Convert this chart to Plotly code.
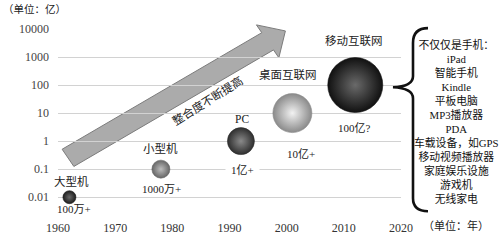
import plotly.graph_objects as go
import math

# ---- data ----
years = [1962, 1978, 1992, 2001, 2012]
values = [0.01, 0.1, 1, 10, 100]
names = ["大型机", "小型机", "PC", "桌面互联网", "移动互联网"]
counts = ["100万+", "1000万+", "1亿+", "10亿+", "100亿?"]
ytick_vals = [0.01, 0.1, 1, 10, 100, 1000, 10000]
ytick_text = ["0.01", "0.1", "1", "10", "100", "1000", "10000"]
xtick_vals = [1960, 1970, 1980, 1990, 2000, 2010, 2020]
device_list = ["不仅仅是手机：", "iPad", "智能手机", "Kindle", "平板电脑", "MP3播放器", "PDA",
               "车载设备，如GPS", "移动视频播放器", "家庭娱乐设施", "游戏机", "无线家电"]

# ---- styles ----
bubble_px = [13, 18, 27, 39, 55]
edge_cols = ["#1e1e1e", "#666666", "#2e2e2e", "#8a8a8a", "#111111"]
center_cols = ["#6a6a6a", "#bdbdbd", "#8a8a8a", "#f2f2f2", "#6a6a6a"]
name_shift = [(2, 16), (0, 21), (1, 22), (-4, 39), (-1, 45)]
count_shift = [(4.5, -12), (1, -20), (1.5, -29), (8.5, -41), (-1, -43)]

W, H = 501, 247
PL, PR, PT, PB = 58, 401, 29, 229
CJK = "Liberation Serif, Noto Sans CJK SC"


def px(x):
    return (x - PL) / (PR - PL)


def py(y):
    return (PB - y) / (PB - PT)


fig = go.Figure()
for i in range(len(years)):
    fig.add_trace(go.Scatter(
        x=[years[i]], y=[values[i]], mode="markers",
        marker=dict(size=bubble_px[i], color=edge_cols[i],
                    gradient=dict(type="radial", color=center_cols[i]),
                    line=dict(width=0.6, color=edge_cols[i]), opacity=1),
        showlegend=False, hoverinfo="skip"))

ann = []
for i in range(len(years)):
    ann.append(dict(x=years[i], y=math.log10(values[i]), xref="x", yref="y",
                    text=names[i], showarrow=False, xshift=name_shift[i][0],
                    yshift=name_shift[i][1],
                    font=dict(family=CJK, size=11.5, color="#222")))
    a = dict(x=years[i], y=math.log10(values[i]), xref="x", yref="y",
             text=counts[i], showarrow=False, xshift=count_shift[i][0],
             yshift=count_shift[i][1],
             font=dict(family=CJK, size=11, color="#222"))
    if i == 2:
        a.update(bgcolor="white", borderpad=5)
    ann.append(a)

# arrow geometry (pixels)
tail = (68, 168.3)
tip = (285.4, 31.1)
dx, dy = tip[0] - tail[0], tip[1] - tail[1]
L = math.hypot(dx, dy)
ux, uy = dx / L, dy / L
nx, ny = -uy, ux
bw, hw, hl = 11, 21, 21


def pt(a, n):
    return (tail[0] + a * ux + n * nx, tail[1] + a * uy + n * ny)


pts = [pt(0, -bw), pt(L - hl, -bw), pt(L - hl, -hw), pt(L, 0),
       pt(L - hl, hw), pt(L - hl, bw), pt(0, bw)]
arrow_path = "M " + " L ".join(f"{px(p[0]):.5f},{py(p[1]):.5f}" for p in pts) + " Z"

mid = pt(117, 0)
ann.append(dict(x=px(mid[0]), y=py(mid[1]), xref="paper", yref="paper",
                text="整合度不断提高", showarrow=False,
                textangle=-math.degrees(math.atan2(-dy, dx)),
                font=dict(family=CJK, size=11.5, color="#222")))


def P(x, y):
    return f"{px(x):.5f},{py(y):.5f}"


brace = (f"M {P(428,28)} Q {P(413,28)} {P(413,44)} L {P(413,80)} "
         f"Q {P(413,91)} {P(393,92)} Q {P(413,93)} {P(413,104)} "
         f"L {P(413,212)} Q {P(413,226)} {P(428,226)}")

shapes = [
    dict(type="path", path=arrow_path, xref="paper", yref="paper",
         fillcolor="#ababab", line=dict(color="#7c7c7c", width=1), layer="between"),
    dict(type="path", path=brace, xref="paper", yref="paper",
         line=dict(color="#111", width=2.6), layer="above"),
]

ann.append(dict(x=px(456.5), y=py(129), xref="paper", yref="paper",
                text="<br>".join(device_list), showarrow=False,
                xanchor="center", yanchor="middle", align="center",
                font=dict(family=CJK, size=10.8, color="#111")))
ann.append(dict(x=px(1), y=py(7), xref="paper", yref="paper",
                text="（单位：亿）", showarrow=False, xanchor="left", yanchor="middle",
                font=dict(family=CJK, size=10.5, color="#222")))
ann.append(dict(x=px(456), y=py(241), xref="paper", yref="paper",
                text="（单位：年）", showarrow=False, xanchor="center", yanchor="middle",
                font=dict(family=CJK, size=11, color="#222")))

fig.update_layout(
    width=W, height=H,
    margin=dict(l=PL, r=W - PR, t=PT, b=H - PB, pad=0),
    paper_bgcolor="white", plot_bgcolor="white",
    shapes=shapes, annotations=ann,
    xaxis=dict(range=[1960, 2020], tickvals=xtick_vals, showgrid=False,
               zeroline=False, showline=False, ticks="", ticklabelstandoff=5,
               tickfont=dict(family="Liberation Serif", size=12, color="#333")),
    yaxis=dict(type="log", range=[-2.6, 4.0], tickvals=ytick_vals, ticktext=ytick_text,
               showgrid=True, gridcolor="#d2d2d2", gridwidth=1.3, zeroline=False,
               showline=False, ticks="", ticklabelstandoff=8,
               tickfont=dict(family="Liberation Serif", size=12, color="#444")),
)

fig.write_html("out.html")
